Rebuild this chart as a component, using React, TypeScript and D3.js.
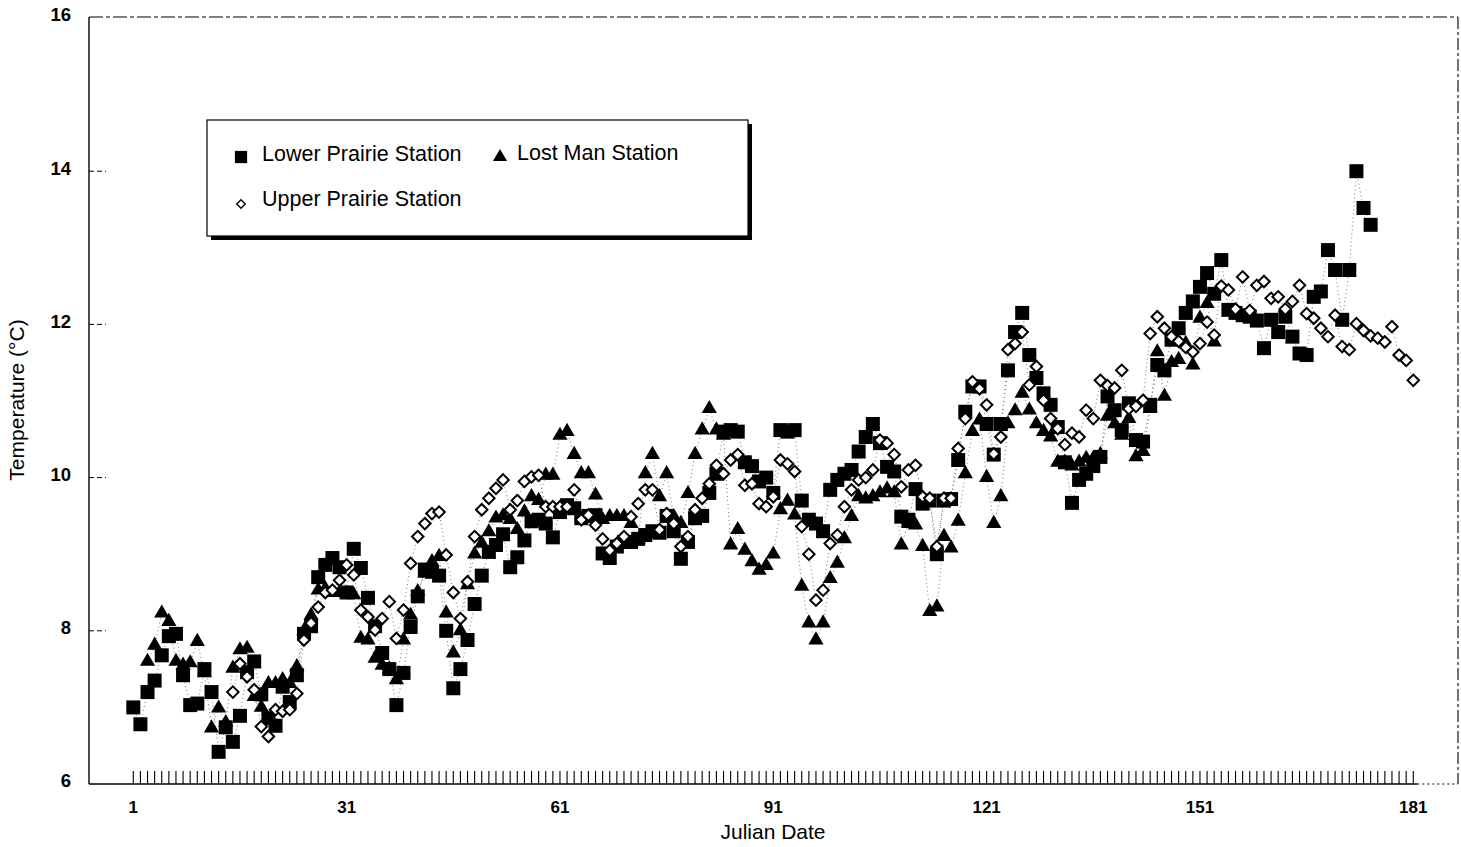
import { useEffect, useRef } from 'react';
import * as d3 from 'd3';

// Julian day of the first value in each series
const lowerPrairieStart = 1;
const lostManStart = 3;
const upperPrairieStart = 15;

const lowerPrairie = [
  7.0, 6.78, 7.2, 7.35, 7.68, 7.93, 7.96, 7.42, 7.03, 7.05,
  7.5, 7.2, 6.42, 6.74, 6.55, 6.89, 7.46, 7.6, 7.17, 6.86,
  6.76, 7.27, 7.07, 7.42, 7.96, 8.06, 8.7, 8.86, 8.95, 8.83,
  8.5, 9.07, 8.82, 8.43, 8.06, 7.71, 7.5, 7.03, 7.45, 8.05,
  8.45, 8.8, 8.77, 8.72, 8.0, 7.25, 7.5, 7.88, 8.35, 8.72,
  9.03, 9.12, 9.26, 8.83, 8.96, 9.18, 9.43, 9.45, 9.4, 9.22,
  9.55, 9.64, 9.6, 9.47, 9.5, 9.51, 9.01, 8.95, 9.1, 9.16,
  9.16, 9.2, 9.25, 9.3, 9.28, 9.5, 9.3, 8.94, 9.16, 9.47,
  9.5, 9.8, 10.05, 10.6, 10.62, 10.6, 10.2, 10.15, 9.95, 10.0,
  9.8, 10.62, 10.6, 10.62, 9.7, 9.45, 9.4, 9.3, 9.84, 9.97,
  10.05, 10.1, 10.34, 10.53, 10.7, 10.45, 10.14, 10.08, 9.49, 9.45,
  9.85, 9.66, 9.7, 9.0, 9.7, 9.72, 10.23, 10.86, 11.19, 11.19,
  10.7, 10.3, 10.7, 11.4, 11.9, 12.15, 11.6, 11.3, 11.1, 10.95,
  10.66, 10.2, 9.67, 9.97, 10.05, 10.15, 10.27, 11.06, 10.88, 10.62,
  10.97, 10.49, 10.47, 10.95, 11.47, 11.4, 11.8, 11.95, 12.15, 12.3,
  12.49, 12.67, 12.4, 12.84, 12.19, 12.15, 12.12, 12.1, 12.05, 11.69,
  12.06, 11.9, 12.1, 11.84, 11.62, 11.6, 12.36, 12.43, 12.97, 12.71,
  12.06, 12.71, 14.0, 13.52, 13.3,
];

const lostMan = [
  7.6, 7.81, 8.23, 8.12, 7.6, 7.55, 7.58, 7.86,
  7.45, 6.73, 6.99, 6.8, 7.51, 7.75, 7.77, 7.14, 7.0, 7.31,
  7.31, 7.36, 7.31, 7.53, 8.0, 8.2, 8.53, 8.55, 8.5, 8.5,
  8.49, 8.47, 7.9, 7.88, 7.64, 7.55, 7.5, 7.36, 7.88, 8.2,
  8.51, 8.75, 8.9, 8.97, 8.23, 7.71, 8.0, 8.6, 9.0, 9.14,
  9.29, 9.47, 9.5, 9.45, 9.32, 9.55, 9.75, 9.7, 10.03, 10.03,
  10.55, 10.6, 10.3, 10.05, 10.05, 9.77, 9.45, 9.49, 9.49, 9.49,
  9.4, 9.19, 10.05, 10.3, 9.75, 10.05, 9.49, 9.4, 9.79, 10.3,
  10.62, 10.9, 10.62, 10.55, 9.12, 9.32, 9.05, 8.9, 8.79, 8.85,
  9.0, 9.58, 9.69, 9.51, 8.58, 8.1, 7.88, 8.1, 8.68, 8.88,
  9.2, 9.49, 9.75, 9.72, 9.75, 9.8, 9.85, 9.8, 9.12, 9.4,
  9.38, 9.1, 8.25, 8.31, 9.23, 9.08, 9.43, 10.05, 10.6, 10.75,
  10.0, 9.4, 9.75, 10.7, 10.87, 11.1, 10.88, 10.7, 10.6, 10.53,
  10.2, 10.2, 10.15, 10.2, 10.25, 10.25, 10.3, 10.8, 10.7, 10.55,
  10.77, 10.27, 10.34, 10.9, 11.64, 11.06, 11.5, 11.54, 11.75, 11.47,
  12.08, 12.27, 11.77,
];

const upperPrairie = [
  7.2, 7.57, 7.4, 7.23, 6.75, 6.62,
  6.97, 6.95, 6.97, 7.18, 7.88, 8.1, 8.31, 8.5, 8.53, 8.66,
  8.86, 8.73, 8.27, 8.18, 8.01, 8.16, 8.38, 7.9, 8.27, 8.88,
  9.23, 9.4, 9.53, 9.55, 8.99, 8.5, 8.16, 8.64, 9.23, 9.58,
  9.73, 9.86, 9.97, 9.58, 9.7, 9.95, 10.01, 10.03, 9.62, 9.62,
  9.62, 9.62, 9.84, 9.45, 9.51, 9.38, 9.2, 9.05, 9.14, 9.23,
  9.49, 9.66, 9.84, 9.84, 9.32, 9.53, 9.4, 9.1, 9.23, 9.58,
  9.73, 9.92, 10.16, 10.05, 10.23, 10.3, 9.9, 9.92, 9.66, 9.62,
  9.75, 10.23, 10.18, 10.08, 9.36, 9.0, 8.4, 8.53, 9.14, 9.25,
  9.62, 9.84, 9.97, 10.0, 10.1, 10.49, 10.45, 10.3, 9.88, 10.1,
  10.16, 9.75, 9.73, 9.1, 9.73, 9.73, 10.38, 10.77, 11.25, 11.16,
  10.95, 10.31, 10.53, 11.67, 11.75, 11.9, 11.21, 11.45, 11.01, 10.77,
  10.64, 10.43, 10.58, 10.53, 10.88, 10.77, 11.27, 11.2, 11.17, 11.4,
  10.9, 10.93, 11.01, 11.88, 12.1, 11.95, 11.84, 11.78, 11.7, 11.64,
  11.75, 12.03, 11.86, 12.5, 12.45, 12.2, 12.62, 12.18, 12.51, 12.56,
  12.34, 12.36, 12.2, 12.3, 12.51, 12.14, 12.08, 11.95, 11.84, 12.12,
  11.71, 11.67, 12.01, 11.92, 11.85, 11.82, 11.77, 11.97, 11.6, 11.53,
  11.27,
];

const yTicks = [6, 8, 10, 12, 14, 16];
const xTicks = [1, 31, 61, 91, 121, 151, 181];

export default function App() {
  const svgRef = useRef<SVGSVGElement>(null);

  useEffect(() => {
    if (!svgRef.current) return;
    document.body.style.margin = '0';

    const svg = d3.select(svgRef.current);
    svg.selectAll('*').remove();

    const font = '"Liberation Sans", Arial, sans-serif';
    const left = 89, top = 17, right = 1458, bottom = 784;
    const x = d3.scaleLinear().domain([1, 181]).range([133.3, 1413.3]);
    const y = d3.scaleLinear().domain([6, 16]).range([bottom, 18]);

    const toPoints = (vals: number[], start: number) =>
      vals.map((v, i) => ({ day: start + i, v }));

    const lp = toPoints(lowerPrairie, lowerPrairieStart);
    const lm = toPoints(lostMan, lostManStart);
    const up = toPoints(upperPrairie, upperPrairieStart);

    // frame
    svg.append('line').attr('x1', left).attr('x2', left).attr('y1', top).attr('y2', bottom)
      .attr('stroke', '#000').attr('stroke-width', 1.4);
    svg.append('line').attr('x1', left).attr('x2', right).attr('y1', top).attr('y2', top)
      .attr('stroke', '#000').attr('stroke-width', 1.1).attr('stroke-dasharray', '14,3,4,3');
    svg.append('line').attr('x1', right).attr('x2', right).attr('y1', top).attr('y2', bottom)
      .attr('stroke', '#000').attr('stroke-width', 1.1).attr('stroke-dasharray', '12,3,3,3');
    svg.append('line').attr('x1', left).attr('x2', x(181) + 4).attr('y1', bottom).attr('y2', bottom)
      .attr('stroke', '#000').attr('stroke-width', 1.4);
    svg.append('line').attr('x1', x(181) + 4).attr('x2', right).attr('y1', bottom).attr('y2', bottom)
      .attr('stroke', '#000').attr('stroke-width', 1).attr('stroke-dasharray', '2,3');

    // y ticks (inside)
    svg.append('g').selectAll('line').data(yTicks.filter(t => t > 6 && t < 16)).join('line')
      .attr('x1', left).attr('x2', left + 17)
      .attr('y1', d => y(d)).attr('y2', d => y(d))
      .attr('stroke', '#000').attr('stroke-width', 1).attr('stroke-dasharray', '5,3');
    svg.append('g').selectAll('text').data(yTicks).join('text')
      .attr('x', 71).attr('y', d => y(d) - 3)
      .attr('dy', '0.35em')
      .attr('text-anchor', 'end')
      .attr('font-family', font)
      .attr('font-weight', 'bold').attr('font-size', 18.5)
      .text(d => d);

    // daily x ticks
    svg.append('g').selectAll('line').data(d3.range(1, 182)).join('line')
      .attr('x1', d => x(d)).attr('x2', d => x(d))
      .attr('y1', bottom).attr('y2', bottom - 13)
      .attr('stroke', '#000').attr('stroke-width', 1.1);
    svg.append('g').selectAll('text').data(xTicks).join('text')
      .attr('x', d => x(d)).attr('y', 813)
      .attr('text-anchor', 'middle')
      .attr('font-family', font)
      .attr('font-weight', 'bold').attr('font-size', 17)
      .text(d => d);

    // axis titles
    svg.append('text')
      .attr('x', 773).attr('y', 839)
      .attr('text-anchor', 'middle')
      .attr('font-family', font)
      .attr('font-size', 21)
      .text('Julian Date');
    svg.append('text')
      .attr('transform', 'translate(24,400) rotate(-90)')
      .attr('text-anchor', 'middle')
      .attr('font-family', font)
      .attr('font-size', 21)
      .text('Temperature (°C)');

    // dotted connecting lines
    const line = d3.line<{ day: number; v: number }>()
      .x(d => x(d.day)).y(d => y(d.v));
    [lp, lm, up].forEach(series => {
      svg.append('path').datum(series)
        .attr('d', line)
        .attr('fill', 'none')
        .attr('stroke', '#777')
        .attr('stroke-width', 1)
        .attr('stroke-dasharray', '1,3');
    });

    const square = d3.symbol().type(d3.symbolSquare).size(196)();
    const triangle = d3.symbol().type(d3.symbolTriangle).size(100)();
    const diamond = d3.symbol().type(d3.symbolSquare).size(66)();

    svg.append('g').selectAll('path').data(lp).join('path')
      .attr('d', square)
      .attr('transform', d => `translate(${x(d.day)},${y(d.v)})`)
      .attr('fill', '#000');

    svg.append('g').selectAll('path').data(lm).join('path')
      .attr('d', triangle)
      .attr('transform', d => `translate(${x(d.day)},${y(d.v)})`)
      .attr('fill', '#000');

    svg.append('g').selectAll('path').data(up).join('path')
      .attr('d', diamond)
      .attr('transform', d => `translate(${x(d.day)},${y(d.v)}) rotate(45)`)
      .attr('fill', '#fff')
      .attr('stroke', '#000')
      .attr('stroke-width', 2);

    // legend with drop shadow
    const lg = svg.append('g');
    lg.append('rect').attr('x', 211).attr('y', 124).attr('width', 541).attr('height', 116)
      .attr('fill', '#000');
    lg.append('rect').attr('x', 207).attr('y', 120).attr('width', 541).attr('height', 116)
      .attr('fill', '#fff').attr('stroke', '#000').attr('stroke-width', 1.2);

    lg.append('path').attr('d', d3.symbol().type(d3.symbolSquare).size(150)())
      .attr('transform', 'translate(241,157)').attr('fill', '#000');
    lg.append('path').attr('d', d3.symbol().type(d3.symbolTriangle).size(85)())
      .attr('transform', 'translate(500,157)').attr('fill', '#000');
    lg.append('path').attr('d', d3.symbol().type(d3.symbolSquare).size(36)())
      .attr('transform', 'translate(241,204) rotate(45)')
      .attr('fill', '#fff').attr('stroke', '#000').attr('stroke-width', 1.4);

    const legendText = [
      { label: 'Lower Prairie Station', tx: 262, ty: 161 },
      { label: 'Lost Man Station', tx: 517, ty: 160 },
      { label: 'Upper Prairie Station', tx: 262, ty: 206 },
    ];
    lg.selectAll('text').data(legendText).join('text')
      .attr('x', d => d.tx).attr('y', d => d.ty)
      .attr('font-family', font)
      .attr('font-size', 21.5)
      .text(d => d.label);
  }, []);

  return (
    <svg
      ref={svgRef}
      width={1461}
      height={847}
      style={{ display: 'block', background: '#fff' }}
    />
  );
}
